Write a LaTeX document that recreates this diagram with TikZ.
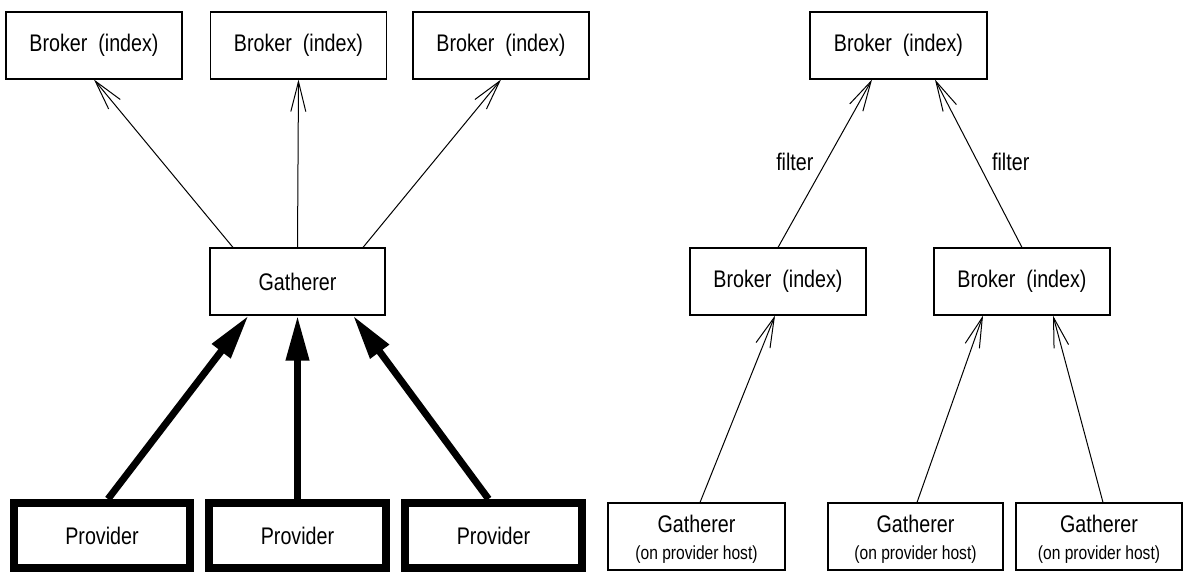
\documentclass[tikz,border=0pt]{standalone}
\usepackage{fontspec}
\setmainfont{Liberation Sans}[FakeStretch=0.82]
\usetikzlibrary{arrows.meta}
% two-line label, set a little below the box centre
\newcommand{\hosttext}{\raisebox{-4pt}[\height][\depth]{\begin{tabular}{@{}c@{}}Gatherer\\[2pt]{\fontsize{19}{20}\selectfont (on provider host)}\end{tabular}}}
\begin{document}
\begin{tikzpicture}[x=1pt,y=-1pt,
  box/.style={draw, line width=1.1pt, minimum width=176pt, minimum height=67pt,
    inner sep=0pt, font=\fontsize{24}{25}\selectfont},
  provbox/.style={box, line width=8pt, minimum height=65pt},
  hostbox/.style={box},
  feed/.style={line width=1pt, -{Straight Barb[length=30pt, width=15pt]}},
  push/.style={line width=7pt, -{Triangle[length=45pt, width=22pt]}},
  lbl/.style={font=\fontsize{24}{25}\selectfont, inner sep=0pt}
]
\useasboundingbox (0,0) rectangle (1185,572);

% left: one gatherer fed by providers, serving several brokers
\node[box] (b1) at (94,45.5) {Broker\ \ (index)};
\node[box] (b2) at (298.5,45.5) {Broker\ \ (index)};
\node[box] (b3) at (501,45.5) {Broker\ \ (index)};
\node[box, minimum width=175pt] (g) at (297.5,281.5) {Gatherer};
\node[provbox] (p1) at (102,535.5) {Provider};
\node[provbox, minimum width=177pt] (p2) at (297.5,535.5) {Provider};
\node[provbox, minimum width=177pt] (p3) at (493.5,535.5) {Provider};

\draw[feed] ([xshift=-64.5pt]g.north) -- (b1.south);
\draw[feed] (g.north) -- (b2.south);
\draw[feed] ([xshift=65.5pt]g.north) -- (b3.south);

\draw[push] ([xshift=6pt]p1.north) -- ([xshift=-49pt]g.south);
\draw[push] (p2.north) -- (g.south);
\draw[push] ([xshift=-5pt]p3.north) -- ([xshift=55.5pt]g.south);

% right: gatherers on provider hosts, brokers filtering upward
\node[box, minimum width=177pt] (t) at (898.5,45.5) {Broker\ \ (index)};
\node[box] (m1) at (778,281.5) {Broker\ \ (index)};
\node[box] (m2) at (1022,281.5) {Broker\ \ (index)};
\node[hostbox, minimum width=177pt] (h1) at (696.5,536.5) {\hosttext};
\node[hostbox, minimum width=175pt] (h2) at (915.5,536.5) {\hosttext};
\node[hostbox, minimum width=166pt] (h3) at (1099,536.5) {\hosttext};

\draw[feed] (m1.north) -- ([xshift=-26.5pt]t.south)
  node[lbl, pos=0.51, left=12pt] {filter};
\draw[feed] (m2.north) -- ([xshift=36.5pt]t.south)
  node[lbl, pos=0.51, right=14pt] {filter};

\draw[feed] ([xshift=3.5pt]h1.north) -- ([xshift=-3pt]m1.south);
\draw[feed] ([xshift=1.5pt]h2.north) -- ([xshift=-39pt]m2.south);
\draw[feed] ([xshift=4pt]h3.north) -- ([xshift=31pt]m2.south);
\end{tikzpicture}
\end{document}
